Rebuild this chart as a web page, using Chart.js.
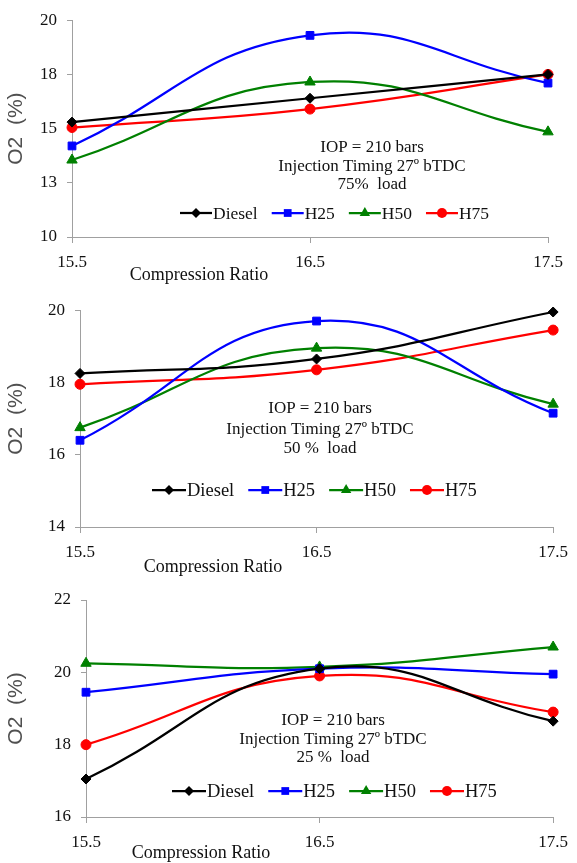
<!DOCTYPE html>
<html>
<head>
<meta charset="UTF-8">
<title>O2 vs Compression Ratio</title>
<script src="https://cdn.jsdelivr.net/npm/chart.js"></script>
<style>
  body { margin: 0; background: #fff; }
  .panel { position: absolute; left: 0; }
  canvas { display: block; }
</style>
</head>
<body>
<div class="panel" style="top:0px"><canvas id="load75" width="577" height="290"></canvas></div>
<div class="panel" style="top:290px"><canvas id="load50" width="577" height="288"></canvas></div>
<div class="panel" style="top:578px"><canvas id="load25" width="577" height="285"></canvas></div>
<script>
const compressionRatios = ['15.5', '16.5', '17.5'];
const fuelNames = ['Diesel', 'H25', 'H50', 'H75'];

// 75% load
const diesel75 = [15.3, 16.4, 17.5];
const h25at75 = [14.2, 19.3, 17.1];
const h50at75 = [13.55, 17.15, 14.85];
const h75at75 = [15.05, 15.9, 17.5];
const yTicks75 = [10, 12.5, 15, 17.5, 20];

// 50% load
const diesel50 = [18.25, 18.65, 19.95];
const h25at50 = [16.4, 19.7, 17.15];
const h50at50 = [16.75, 18.95, 17.4];
const h75at50 = [17.95, 18.35, 19.45];
const yTicks50 = [14, 16, 18, 20];

// 25% load
const diesel25 = [17.05, 20.1, 18.65];
const h25at25 = [19.45, 20.1, 19.95];
const h50at25 = [20.25, 20.15, 20.7];
const h75at25 = [18.0, 19.9, 18.9];
const yTicks25 = [16, 18, 20, 22];

const noteLines = ['IOP = 210 bars', 'Injection Timing 27º bTDC'];
const xTitle = 'Compression Ratio';
const yTitle = 'O2  (%)';

const colors = ['#000000', '#0000ff', '#008000', '#ff0000'];
const markers = ['rectRot', 'rect', 'triangle', 'circle'];
const markerSizes = [5, 5.5, 6, 5];
const axisGray = '#a0a0a0';
const textColor = '#111111';

const drawMarker = (ctx, style, x, y, r) => {
  ctx.beginPath();
  if (style === 'circle') {
    ctx.arc(x, y, r, 0, Math.PI * 2);
  } else if (style === 'rect') {
    const s = r * Math.SQRT1_2;
    ctx.rect(x - s, y - s, 2 * s, 2 * s);
  } else if (style === 'rectRot') {
    ctx.moveTo(x, y - r);
    ctx.lineTo(x + r, y);
    ctx.lineTo(x, y + r);
    ctx.lineTo(x - r, y);
    ctx.closePath();
  } else {
    ctx.moveTo(x, y - r);
    ctx.lineTo(x + 0.866 * r, y + 0.5 * r);
    ctx.lineTo(x - 0.866 * r, y + 0.5 * r);
    ctx.closePath();
  }
  ctx.fill();
};

// notes, legend and x title drawn over the plot like the original sheet
const panelText = {
  id: 'panelText',
  afterDraw(chart, args, opts) {
    const ctx = chart.ctx;
    ctx.save();
    ctx.fillStyle = textColor;
    ctx.textBaseline = 'middle';

    ctx.font = '17px "Liberation Serif"';
    ctx.textAlign = 'center';
    opts.notes.forEach((line, i) => ctx.fillText(line, opts.noteX, opts.noteY[i]));

    ctx.font = '18px "Liberation Serif"';
    ctx.fillText(xTitle, opts.titleX, opts.titleY);

    ctx.font = opts.legendSize + 'px "Liberation Serif"';
    ctx.textAlign = 'left';
    let x = opts.legendX;
    const y = opts.legendY;
    chart.data.datasets.forEach((ds, i) => {
      ctx.strokeStyle = ds.borderColor;
      ctx.fillStyle = ds.borderColor;
      ctx.lineWidth = ds.borderWidth;
      ctx.beginPath();
      ctx.moveTo(x, y);
      ctx.lineTo(x + opts.legendLine, y);
      ctx.stroke();
      drawMarker(ctx, ds.pointStyle, x + opts.legendLine / 2, y, ds.pointRadius);
      ctx.fillStyle = textColor;
      ctx.fillText(ds.label, x + opts.legendLine + 1, y + 1);
      x += opts.legendLine + 1 + ctx.measureText(ds.label).width + 14;
    });
    ctx.restore();
  }
};

const makePanel = (id, seriesList, yTicks, loadText, box) => {
  const datasets = seriesList.map((values, i) => ({
    label: fuelNames[i],
    data: values,
    borderColor: colors[i],
    backgroundColor: colors[i],
    borderWidth: 2.25,
    pointStyle: markers[i],
    pointRadius: markerSizes[i],
    pointBorderWidth: 1,
    tension: 0.45,
    fill: false,
    clip: false
  }));

  return new Chart(document.getElementById(id), {
    type: 'line',
    data: { labels: compressionRatios, datasets },
    plugins: [panelText],
    options: {
      responsive: false,
      animation: false,
      layout: { padding: { top: box.top, right: box.right, left: 0, bottom: 0 } },
      plugins: {
        legend: { display: false },
        tooltip: { enabled: false },
        panelText: {
          notes: [noteLines[0], noteLines[1], loadText],
          noteX: box.noteX,
          noteY: box.noteY,
          titleX: box.titleX,
          titleY: box.titleY,
          legendX: box.legendX,
          legendY: box.legendY,
          legendSize: box.legendSize,
          legendLine: box.legendLine
        }
      },
      scales: {
        x: {
          type: 'category',
          offset: false,
          afterFit: (scale) => { scale.height = box.xHeight; },
          grid: { drawOnChartArea: false, tickLength: 6, color: axisGray },
          border: { color: axisGray },
          ticks: {
            font: { family: 'Liberation Serif', size: 17 },
            color: textColor,
            padding: 9,
            maxRotation: 0,
            autoSkip: false
          }
        },
        y: {
          min: yTicks[0],
          max: yTicks[yTicks.length - 1],
          afterFit: (scale) => { scale.width = box.yWidth; },
          afterBuildTicks: (scale) => { scale.ticks = yTicks.map(v => ({ value: v })); },
          grid: { drawOnChartArea: false, tickLength: 5, color: axisGray },
          border: { color: axisGray },
          ticks: {
            font: { family: 'Liberation Serif', size: 17 },
            color: textColor,
            padding: 10,
            callback: (v) => Math.round(v)
          },
          title: {
            display: true,
            text: yTitle,
            color: '#505050',
            font: { family: 'Liberation Sans', size: 21 },
            padding: { top: 4, bottom: 0 }
          }
        }
      }
    }
  });
};

makePanel('load75', [diesel75, h25at75, h50at75, h75at75], yTicks75, '75%  load', {
  top: 16, right: 29, yWidth: 72, xHeight: 53,
  noteX: 372, noteY: [148, 167, 185],
  titleX: 199, titleY: 275,
  legendX: 180, legendY: 213, legendSize: 17.5, legendLine: 32
});

makePanel('load50', [diesel50, h25at50, h50at50, h75at50], yTicks50, '50 %  load', {
  top: 18, right: 15, yWidth: 80, xHeight: 51,
  noteX: 320, noteY: [119, 140, 159],
  titleX: 213, titleY: 277,
  legendX: 152, legendY: 200, legendSize: 18.5, legendLine: 34
});

makePanel('load25', [diesel25, h25at25, h50at25, h75at25], yTicks25, '25 %  load', {
  top: 22, right: 19, yWidth: 86, xHeight: 46,
  noteX: 333, noteY: [143, 162, 180],
  titleX: 201, titleY: 275,
  legendX: 172, legendY: 213, legendSize: 18.5, legendLine: 34
});
</script>
</body>
</html>
